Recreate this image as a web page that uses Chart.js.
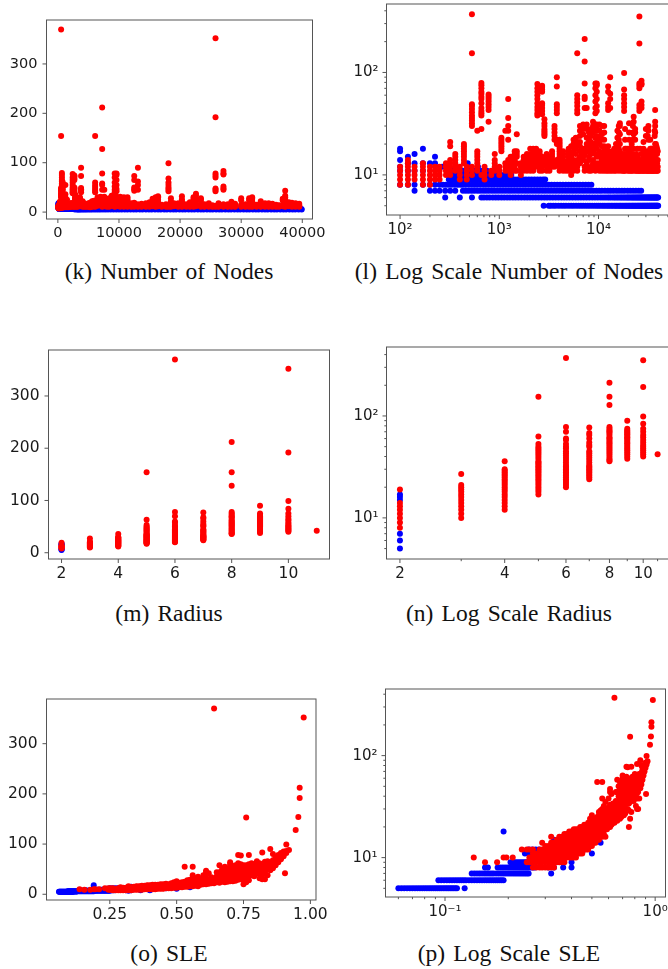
<!DOCTYPE html>
<html><head><meta charset="utf-8">
<script src="https://cdn.jsdelivr.net/npm/chart.js@4"></script>
<style>
html,body{margin:0;padding:0;background:#fff;width:668px;height:969px;overflow:hidden;position:relative}
canvas{position:absolute;filter:blur(.45px)}
.cap{position:absolute;transform:translate(-50%,-50%);font-family:"Liberation Serif",serif;font-size:23.5px;color:#111;white-space:nowrap;word-spacing:2.3px}
</style></head><body>
<div class="cap" style="left:169px;top:271px">(k) Number of Nodes</div>
<div class="cap" style="left:509px;top:271px">(l) Log Scale Number of Nodes</div>
<div class="cap" style="left:169px;top:613px">(m) Radius</div>
<div class="cap" style="left:509px;top:613px">(n) Log Scale Radius</div>
<div class="cap" style="left:169px;top:953px">(o) SLE</div>
<div class="cap" style="left:509px;top:953px">(p) Log Scale SLE</div>
<script>
// tick lists
const linYTicks=[0,100,200,300];
const nodesLinXTicks=[0,10000,20000,30000,40000];
const radiusLinXTicks=[2,4,6,8,10];
const sleLinXTicks=[0.25,0.5,0.75,1];
const logYTicks=[5,6,7,8,9,10,20,30,40,50,60,70,80,90,100,200,300,400];
const logYLabels=[10,100];
const nodesLogXTicks=[100,200,300,400,500,600,700,800,900,1000,2000,3000,4000,5000,6000,7000,8000,9000,10000,20000,30000,40000,50000];
const nodesLogXLabels=[100,1000,10000];
const radiusLogXTicks=[2,3,4,5,6,7,8,9,10,11,12];
const radiusLogXLabels=[2,4,6,8,10];
const sleLogXTicks=[0.06,0.07,0.08,0.09,0.1,0.2,0.3,0.4,0.5,0.6,0.7,0.8,0.9,1];
const sleLogXLabels=[0.1,1];

// number of nodes: blue rows (x values for one y)
const nodesBlue5=[2800,3150,3300,3500,3700,3950,4200,4450,4700,5000,5300,5600,5950,6300,6650,7000,7400,7800,8200,8650,9100,9550,10000,10450,10950,11400,11900,12400,12850,13400,13850,14400,14900,15350,15900,16400,16850,17400,17850,18400,18900,19350,19900,20400,20850,21400,21900,22350,22900,23400,23850,24400,24900,25350,25900,26400,26850,27400,27900,28350,28900,29400,29850,30400,30900,31350,31900,32400,32850,33400,33900,34350,34900,35400,35850,36400,36900,37350,37900,38400,38850,39400,39900];
const nodesBlue6=[285,400,530,660,700,750,800,860,920,980,1050,1120,1200,1280,1370,1460,1560,1670,1790,1910,2040,2180,2330,2490,2660,2840,3030,3240,3460,3700,3950,4220,4500,4800,5120,5470,5840,6230,6650,7100,7580,8090,8640,9220,9840,10500,11100,11700,12350,12900,13500,14150,14700,15300,15900,16550,17100,17700,18300,18950,19500,20100,20700,21350,21900,22500,23100,23750,24300,24900,25500,26150,26700,27300,27900,28550,29100,29700,30300,30950,31500,32100,32700,33350,33900,34500,35100,35750,36300,36900,37500,38150,38700,39300,39850];
const nodesBlue7=[140,200,225,250,285,320,360,430,460,490,525,560,600,640,685,730,780,835,890,950,1015,1085,1160,1240,1320,1410,1510,1610,1720,1840,1960,2100,2240,2390,2550,2730,2910,3110,3320,3550,3790,4050,4320,4620,4930,5270,5620,6000,6410,6850,7310,7810,8340,8900,9510,10150,10800,11600,12400,13200,14100,15100,16100,17200,18300,19600,20900,22300,23800,25400,26900];
const nodesBlue8=[100,120,140,170,200,225,250,270,290,310,330,355,380,405,430,460,495,530,565,600,645,690,735,785,840,895,960,1025,1095,1170,1250,1335,1425,1520,1625,1740,1855,1985,2120,2265,2420,2585,2760,2950,3150,3370,3600,3840,4100,4380,4680,5000,5340,5700,6090,6500,6950,7420,7930,8470];
const nodesBlue9=[310,330,355,380,405,430,460,495,530,565,600,645,690,735,785,840,895,960,1025,1095,1170,1250,1335,1425,1520,1625,1740,1855,1985,2120,2265,2420,2585,2760,2900];
const nodesBlue10=[315,340,365,400,430,470,510,555,605,655,710,770,835,905,985,1060,1150,1240,1320];
const nodesBlue11=[100,120,140,170,320,345,370,400,430,470,510,560,620,680,750];
const nodesBlueExtra=[[100,[12,14,17,18]],[120,[13,15]],[140,[13,16]],[170,[13,18]],[200,[13]],[225,[13,15]],[265,[12]],[290,[12]],[480,[13]],[610,[10,12]]];

// number of nodes: red columns [x, y values]
const nodesRed=[
[100,[8,9,10,11,12]],[120,[8,9,10,11,12,13,14]],[140,[9,10,11,12]],[170,[8,9,10,11,12,13]],[200,[8,9,10,11,12]],[225,[9,10,11,12]],[250,[9,10,11,12]],[290,[10,11,12,13]],[320,[10,11,12,13,14,19,21]],[360,[11,12,13,14,15,16]],[400,[9,10,11,12]],[440,[13,14,15,16,17,18,19,20]],[470,[9,10,11,12]],
[530,[10,11,12,30,32,34,36,38,41,44,47,49,154,370]],[600,[11,12,13,14,15,16,17,27]],[660,[10,28,38,40,42,45,50,55,58,62,65,70,75,79]],[710,[9,10,11,12]],[780,[33,43,46,49,52,55,58,61]],[830,[10,11]],[900,[11,12,13,14,16]],[1000,[10,11,12]],[1050,[17,18,19,20,21,22,23]],[1150,[11,12,13,27]],[1230,[11,12,14,22,27,30,36,55]],[1300,[10,11,12,13,14,15]],[1430,[11,12,13,14,15,16,17]],[1500,[11,13,15,16,17,25]],[1650,[10,11,12,13]],[1760,[11,12,13,14,15]],[1900,[11,12,13,14,15,16]],[2050,[11,12,13,14,15,16,18]],[2200,[11,12,13,14,15,16,17,18]],[2350,[12,13,14,15,16,17,18]],
[2420,[38,40,43,46,50,55,60,65,70,77]],[2550,[11,12,13,14,15,16,17]],[2700,[11,12,13,14,15,39,42,45,48,50,65,68,72,74]],[2850,[24,25,26,27,28,30,32,35]],[3000,[11,12,13,14,15,16]],[3200,[11,12,13,14,15]],[3400,[12,13,14,15,16,17]],[3600,[12,13,22,24,26,28,30]],[3800,[13,14,20,21,22,40,43,46,49,73,90]],[4050,[11,12,13,14,15,16,17,18,19,20,21,22]],[4400,[11,12,13,14,15,16,17]],[4700,[11,12,13]],[5000,[11,12,13,14,15,16,17,18]],[5300,[10,11,12,14,15,16,19]],[5600,[11,12,13,14,17,19,20,22]],[5900,[12,13,16,18,20,22,23]],[6100,[11,12,14,40,43,47,51,55,60,154]],[6500,[13,14,15,17,19,21,24,27,30]],[7000,[14,15,16,17,18,25,28,31]],[7250,[11,12,16,18,45,55,58,78,128,212]],[7600,[12,13,17,20,23,28,31,45]],[8000,[11,14,15,17,19,22,26]],[8400,[11,12,16,18,21,24,28]],[8800,[13,14,17,20,26,30,33]],[9300,[11,12,16,19,23,27,31,40,45,52,60,70,78]],[9600,[12,13,15,18,21,24,28,31,42,47,55,65,75,78]],
[10200,[11,13,15,17,20,23,27,31]],[10800,[11,12,14,16,19,22,25,30]],[11400,[11,13,15,17,19,22,26,30]],[12000,[11,12,14,16,18]],[12500,[11,13,15,17,19,43,46,50,65,73]],[13100,[11,12,14,16,45,55,62,90]],[13700,[11,13,15,17]],[14400,[11,12,14,16,18]],[15000,[11,13,15,17,20]],[15500,[12,14,16,19,23,27]],[16000,[11,13,15,18,22,26,30]],[16400,[12,14,17,20,25,30,32]],[17000,[11,13,15]],[17700,[11,12,14,16]],[18100,[11,13,15,42,46,50,55,60,68,99]],[18500,[11,14,16,18,22,28]],[19000,[12,13,15,18]],[19700,[11,14,16,18]],[20300,[11,12,15,17,18,22,26,32]],[21000,[11,13,14,16]],[21600,[11,12,15,18,20]],[22200,[11,13,16,22,26,30]],[22600,[12,14,18,25,33,37]],[23400,[11,13,15,22,26,28]],[24000,[11,12,14,16]],[24700,[11,13,15,18]],[25300,[11,12,14]],[25800,[11,13,42,45,48,70,74,78,192,352]],[26300,[11,12,14,18]],[27100,[11,13,16,45,48,52,76,78,83]],[27800,[11,12,14,16]],[28400,[11,13,15,18,21]],[29000,[11,12,14,17]],[30000,[11,13,15,24,28]],[30700,[11,12,14,16]],[31300,[11,13,15,17,24,28]],[31800,[11,12,16,22,27,30]],[32500,[11,13,15]],[33200,[11,12,14,18,22]],[33900,[11,13,16,18]],[34500,[11,12,15,18]],[35100,[11,13,14,17]],[35700,[11,12,15]],[36200,[11,13,14]],[36800,[12,15,24,27]],[37200,[11,14,20,26,30,33,43]],[37800,[12,13,16,20]],[38300,[11,14,17,19]],[38900,[11,13,16,18]],[39500,[11,12,14,17]]];

// radius columns
const radiusBlue=[[2,[5,6,7,15,16,17]]];
const radiusRed=[
[2,[8,9,10,11,12,13,14,19]],
[3,[10,11,12,13,14,15,16,17,18,19,20,21,27]],
[4,[12,13,14,15,16,17,18,19,20,21,22,23,24,25,26,27,28,29,30,36]],
[5,[17,18,19,20,21,22,23,24,25,26,27,28,29,30,31,32,33,34,35,36,38,40,42,44,46,48,50,53,63,154]],
[6,[20,21,22,23,24,25,26,27,28,29,30,31,32,33,35,37,39,41,43,45,48,50,53,58,60,70,78,370]],
[7,[24,25,26,27,28,29,30,31,32,33,35,37,39,41,43,45,50,52,55,60,65,68,77]],
[8,[36,37,38,40,42,44,46,48,50,52,54,56,58,60,62,65,68,70,72,75,78,128,154,212]],
[9,[38,40,42,44,46,48,50,52,54,56,58,60,62,64,66,68,70,72,75,90]],
[10,[40,42,44,46,48,50,52,55,58,62,65,70,75,84,99,192,352]],
[11,[42]]];

// SLE blue rows
const sleBlue5=[0.06,0.062,0.064,0.066,0.068,0.07,0.072,0.074,0.076,0.078,0.08,0.082,0.084,0.086,0.088,0.09,0.092,0.094,0.096,0.098,0.1,0.102,0.104,0.106,0.108,0.11,0.112,0.114,0.124];
const sleBlue6=[0.093,0.096,0.099,0.102,0.105,0.108,0.111,0.114,0.117,0.12,0.123,0.126,0.13,0.134,0.138,0.142,0.146,0.15,0.154,0.158,0.162,0.166,0.17,0.174,0.178,0.182,0.186,0.19];
const sleBlue7=[0.134,0.138,0.142,0.146,0.15,0.154,0.158,0.162,0.166,0.17,0.175,0.18,0.185,0.19,0.195,0.2,0.205,0.21,0.215,0.22,0.225,0.23,0.235,0.24,0.245,0.25,0.32];
const sleBlue8=[0.155,0.16,0.178,0.183,0.188,0.193,0.198,0.203,0.208,0.213,0.218,0.223,0.228,0.233,0.238,0.243,0.248,0.253,0.258,0.263,0.268,0.31,0.33,0.365,0.4];
const sleBlue9=[0.205,0.21,0.215,0.22,0.225,0.23,0.235,0.24,0.245,0.25,0.255,0.26,0.4];
const sleBlueExtra=[[0.19,[18]],[0.24,[11]],[0.25,[11,12]],[0.26,[11,12]],[0.27,[10,11,12]],[0.28,[11,12]],[0.33,[15]],[0.43,[18]],[0.46,[12]],[0.5,[11]],[0.55,[14]]];

// SLE red columns
const sleRed=[
[0.137,[10]],[0.155,[9]],[0.177,[9]],[0.19,[10]],[0.196,[10]],[0.21,[10]],[0.232,[12]],[0.245,[9,12]],[0.252,[9,10,12]],[0.262,[8,9,10,11,12]],[0.272,[8,9,10,11]],[0.282,[8,9,10,11,12]],[0.29,[8,9,10,11,12,14]],
[0.3,[8,9,10,11,12,13]],[0.31,[8,9,10,11,12,13]],[0.32,[8,9,10,11,12,13,14,16]],[0.33,[8,9,10,11,12,13,14]],[0.34,[9,10,11,12,13,14,15]],[0.35,[9,10,11,12,13,14,15,16]],[0.36,[9,10,11,12,13,14,15,16]],[0.37,[9,10,11,12,13,14,15,16,17]],[0.38,[10,11,12,13,14,15,16,17]],[0.39,[10,11,12,13,14,15,16,17,18]],[0.4,[10,11,12,13,14,15,16,17,18]],[0.41,[10,11,12,13,14,15,16,17,18,19]],[0.42,[10,11,12,13,14,15,16,17,18,19]],[0.43,[11,12,13,14,15,16,17,18,19]],[0.44,[11,12,13,14,15,16,17,18,20]],[0.45,[11,12,13,14,15,16,18,20]],[0.46,[12,13,14,15,16,17,18,19,21]],[0.47,[12,13,14,15,16,17,18,20]],[0.48,[12,13,14,16,17,18,20,22]],[0.49,[13,14,15,16,17,18,20,24]],[0.5,[13,14,15,16,18,20,22,26]],[0.51,[14,15,16,17,18,20,23]],[0.52,[14,15,17,18,20,22,24]],[0.53,[15,16,17,19,21,25,55]],[0.54,[15,17,19,21,23,26,28]],[0.55,[16,18,20,22,24,29]],[0.56,[16,18,20,23,26,30,38,55]],[0.57,[17,19,21,24,28,32]],[0.58,[16,19,22,25,28,35]],[0.59,[19,21,24,27,30]],[0.6,[20,22,25,28,31,38]],[0.61,[20,23,26,29,33,44,47]],[0.62,[21,24,27,30,42]],[0.63,[22,25,28,31,34]],[0.64,[22,25,28,31,370]],[0.65,[24,27,30,36,44]],[0.66,[23,27,30,34,44,58]],[0.67,[25,28,31,36,40,50]],[0.68,[24,28,33,38,44,48,55]],[0.69,[25,29,32,36,40,46,52]],[0.7,[26,30,34,37,41,45,52,60,64]],[0.71,[26,31,35,38,42,46,50,56]],[0.72,[27,33,37,42,48,52,58]],[0.73,[29,35,42,47,52,57,62,78]],[0.74,[30,36,39,43,46,50,55,60,77]],[0.75,[20,29,34,38,43,48,54,58]],[0.76,[24,35,40,45,50,54,58,153]],[0.77,[28,38,43,47,50,55,60,78]],[0.78,[38,42,46,50,55,59,62]],[0.79,[36,40,44,48,52,56,60]],[0.8,[42,46,50,54,58,62,66]],[0.81,[32,41,45,48,52,56,62]],[0.82,[30,38,43,48,53,58,83]],[0.83,[30,44,48,52,58,65]],[0.84,[38,50,55,60,66]],[0.85,[48,52,56,60,64,90]],[0.86,[52,56,60,64,68,80]],[0.87,[58,62,66,70,74]],[0.88,[64,68,72,78]],[0.89,[70,76,82]],[0.9,[76,82,85]],[0.905,[42,84]],[0.91,[82,86,99]],[0.92,[88]],[0.945,[128]],[0.955,[154]],[0.96,[192,212]],[0.975,[352]]];

const colsToPts=cols=>cols.flatMap(([x,ys])=>ys.map(y=>({x,y})));
const rowToPts=(xs,y)=>xs.map(x=>({x,y}));
const nodesBluePts=[...rowToPts(nodesBlue5,5),...rowToPts(nodesBlue6,6),...rowToPts(nodesBlue7,7),...rowToPts(nodesBlue8,8),...rowToPts(nodesBlue9,9),...rowToPts(nodesBlue10,10),...rowToPts(nodesBlue11,11),...colsToPts(nodesBlueExtra)];
const sleBluePts=[...rowToPts(sleBlue5,5),...rowToPts(sleBlue6,6),...rowToPts(sleBlue7,7),...rowToPts(sleBlue8,8),...rowToPts(sleBlue9,9),...colsToPts(sleBlueExtra)];

const sup={'-':'\u207B','0':'\u2070','1':'\u00B9','2':'\u00B2','3':'\u00B3','4':'\u2074'};
const expLabel=v=>'10'+String(Math.round(Math.log10(v))).split('').map(c=>sup[c]).join('');

const framePlugin={id:'frame',afterDatasetsDraw(chart){
  const c=chart.ctx,a=chart.chartArea;
  c.save();c.strokeStyle='#555';c.lineWidth=1;
  const tick=(s,horiz)=>{const o=s.options.tickMarks;
    for(const t of s.ticks){const p=s.getPixelForValue(t.value);
      const len=o.includes(t.value)?4:2.2;c.beginPath();
      if(horiz){if(p<a.left||p>a.right)continue;c.moveTo(p,a.bottom);c.lineTo(p,a.bottom+len);}
      else{if(p<a.top||p>a.bottom)continue;c.moveTo(a.left,p);c.lineTo(a.left-len,p);}
      c.stroke();}};
  c.strokeRect(a.left,a.top,a.right-a.left,a.bottom-a.top);
  tick(chart.scales.x,true);tick(chart.scales.y,false);
  c.restore();}};

function panel(o){
  const cx=o.cx,cy=o.t-24,cw=o.cw,ch=o.b+70-cy;
  const cv=document.createElement('canvas');
  cv.width=cw;cv.height=ch;cv.style.left=cx+'px';cv.style.top=cy+'px';cv.style.width=cw+'px';cv.style.height=ch+'px';
  document.body.appendChild(cv);
  const font={family:'"DejaVu Sans"',size:o.fs};
  const axis=(a,fit)=>({type:a.type,min:a.min,max:a.max,tickMarks:a.major,
    grid:{display:false,drawTicks:false},border:{display:false},
    afterBuildTicks:s=>{s.ticks=a.ticks.map(value=>({value}));},
    afterFit:fit,
    ticks:{color:'#1a1a1a',font,padding:a.pad,autoSkip:false,maxRotation:0,minRotation:0,
      callback:v=>a.major.includes(v)?a.fmt(v):''}});
  new Chart(cv,{type:'scatter',
    data:{datasets:[
      {data:o.blue,backgroundColor:'#0000ff',borderWidth:0,pointRadius:o.r,order:2},
      {data:o.red,backgroundColor:'#ff0000',borderWidth:0,pointRadius:o.r,order:1}]},
    options:{responsive:false,animation:false,devicePixelRatio:1,events:[],
      layout:{padding:{top:24,right:cx+cw-o.r2,left:0,bottom:0}},
      plugins:{legend:{display:false},tooltip:{enabled:false},title:{display:false}},
      scales:{x:axis(o.xa,s=>{s.height=70;}),y:axis(o.ya,s=>{s.width=o.l-cx;})}},
    plugins:[framePlugin]});
}
const num=v=>String(v);
const fix2=v=>v.toFixed(2);
const nodesR=colsToPts(nodesRed),radR=colsToPts(radiusRed),radB=colsToPts(radiusBlue),sleR=colsToPts(sleRed);

panel({cx:0,cw:334,l:46.5,r2:312.5,t:19.5,b:218.5,fs:14.5,r:3,red:nodesR,blue:nodesBluePts,
  xa:{type:'linear',min:-1860,max:41670,ticks:nodesLinXTicks,major:nodesLinXTicks,fmt:num,pad:6},
  ya:{type:'linear',min:-14,max:389,ticks:linYTicks,major:linYTicks,fmt:num,pad:9}});
panel({cx:334,cw:380,l:386.5,r2:672,t:3.5,b:214.5,fs:15,r:3,red:nodesR,blue:nodesBluePts,
  xa:{type:'logarithmic',min:73,max:55000,ticks:nodesLogXTicks,major:nodesLogXLabels,fmt:expLabel,pad:6},
  ya:{type:'logarithmic',min:4.06,max:466,ticks:logYTicks,major:logYLabels,fmt:expLabel,pad:8}});
panel({cx:0,cw:334,l:48.5,r2:329.5,t:349.5,b:558.5,fs:15.5,r:3,red:radR,blue:radB,
  xa:{type:'linear',min:1.54,max:11.45,ticks:radiusLinXTicks,major:radiusLinXTicks,fmt:num,pad:6},
  ya:{type:'linear',min:-12,max:388,ticks:linYTicks,major:linYTicks,fmt:num,pad:9}});
panel({cx:334,cw:380,l:386.5,r2:672,t:346.5,b:558.5,fs:15,r:3,red:radR,blue:radB,
  xa:{type:'logarithmic',min:1.83,max:12.1,ticks:radiusLogXTicks,major:radiusLogXLabels,fmt:num,pad:6},
  ya:{type:'logarithmic',min:3.95,max:475,ticks:logYTicks,major:logYLabels,fmt:expLabel,pad:8}});
panel({cx:0,cw:334,l:46.5,r2:316.5,t:698.5,b:899.5,fs:15.5,r:3,red:sleR,blue:sleBluePts,
  xa:{type:'linear',min:0.0134,max:1.021,ticks:sleLinXTicks,major:sleLinXTicks,fmt:fix2,pad:6},
  ya:{type:'linear',min:-11.4,max:389,ticks:linYTicks,major:linYTicks,fmt:num,pad:9}});
panel({cx:334,cw:380,l:385.5,r2:665.5,t:688.5,b:896.5,fs:15,r:3,red:sleR,blue:sleBluePts,
  xa:{type:'logarithmic',min:0.0521,max:1.12,ticks:sleLogXTicks,major:sleLogXLabels,fmt:expLabel,pad:6},
  ya:{type:'logarithmic',min:4.11,max:450,ticks:logYTicks,major:logYLabels,fmt:expLabel,pad:8}});
</script>
</body></html>
